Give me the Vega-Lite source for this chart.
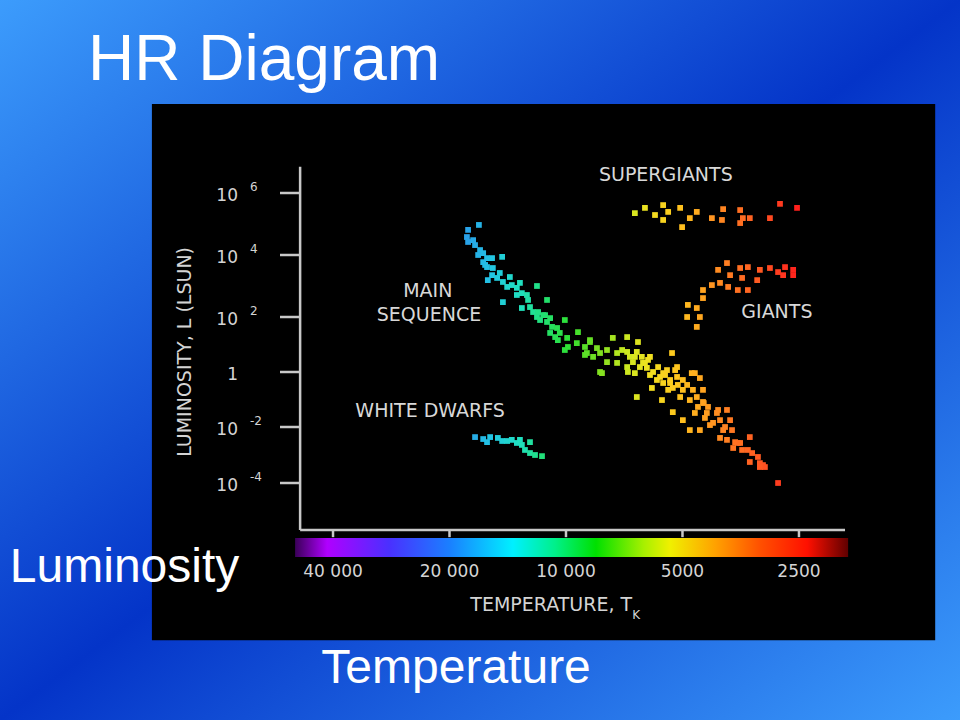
{
  "$schema": "https://vega.github.io/schema/vega-lite/v6.json",
  "width": 960,
  "height": 720,
  "padding": 0,
  "autosize": {"type": "fit", "contains": "padding"},
  "background": "#1f63dc",
  "config": {"view": {"stroke": null}},
  "datasets": {
    "stars": [
      {"class": "Main sequence", "logT": 4.225, "logL": 4.97},
      {"class": "Main sequence", "logT": 4.253, "logL": 4.81},
      {"class": "Main sequence", "logT": 4.256, "logL": 4.58},
      {"class": "Main sequence", "logT": 4.253, "logL": 4.42},
      {"class": "Main sequence", "logT": 4.24, "logL": 4.48},
      {"class": "Main sequence", "logT": 4.235, "logL": 4.32},
      {"class": "Main sequence", "logT": 4.222, "logL": 4.16},
      {"class": "Main sequence", "logT": 4.227, "logL": 4.0},
      {"class": "Main sequence", "logT": 4.214, "logL": 4.06},
      {"class": "Main sequence", "logT": 4.204, "logL": 3.9},
      {"class": "Main sequence", "logT": 4.191, "logL": 3.9},
      {"class": "Main sequence", "logT": 4.165, "logL": 3.94},
      {"class": "Main sequence", "logT": 4.214, "logL": 3.77},
      {"class": "Main sequence", "logT": 4.209, "logL": 3.68},
      {"class": "Main sequence", "logT": 4.204, "logL": 3.61},
      {"class": "Main sequence", "logT": 4.189, "logL": 3.58},
      {"class": "Main sequence", "logT": 4.191, "logL": 3.35},
      {"class": "Main sequence", "logT": 4.202, "logL": 3.19},
      {"class": "Main sequence", "logT": 4.178, "logL": 3.26},
      {"class": "Main sequence", "logT": 4.171, "logL": 3.42},
      {"class": "Main sequence", "logT": 4.163, "logL": 3.13},
      {"class": "Main sequence", "logT": 4.145, "logL": 3.29},
      {"class": "Main sequence", "logT": 4.152, "logL": 2.97},
      {"class": "Main sequence", "logT": 4.14, "logL": 3.03},
      {"class": "Main sequence", "logT": 4.127, "logL": 2.94},
      {"class": "Main sequence", "logT": 4.127, "logL": 2.71},
      {"class": "Main sequence", "logT": 4.119, "logL": 3.1},
      {"class": "Main sequence", "logT": 4.114, "logL": 2.77},
      {"class": "Main sequence", "logT": 4.101, "logL": 2.71},
      {"class": "Main sequence", "logT": 4.163, "logL": 2.48},
      {"class": "Main sequence", "logT": 4.114, "logL": 2.29},
      {"class": "Main sequence", "logT": 4.098, "logL": 2.55},
      {"class": "Main sequence", "logT": 4.093, "logL": 2.32},
      {"class": "Main sequence", "logT": 4.085, "logL": 2.16},
      {"class": "Main sequence", "logT": 4.072, "logL": 2.16},
      {"class": "Main sequence", "logT": 4.075, "logL": 3.0},
      {"class": "Main sequence", "logT": 4.049, "logL": 2.55},
      {"class": "Main sequence", "logT": 4.075, "logL": 2.0},
      {"class": "Main sequence", "logT": 4.067, "logL": 1.89},
      {"class": "Main sequence", "logT": 4.059, "logL": 2.06},
      {"class": "Main sequence", "logT": 4.054, "logL": 2.06},
      {"class": "Main sequence", "logT": 4.049, "logL": 1.82},
      {"class": "Main sequence", "logT": 4.041, "logL": 1.96},
      {"class": "Main sequence", "logT": 4.036, "logL": 1.64},
      {"class": "Main sequence", "logT": 4.023, "logL": 1.6},
      {"class": "Main sequence", "logT": 4.041, "logL": 1.42},
      {"class": "Main sequence", "logT": 4.028, "logL": 1.27},
      {"class": "Main sequence", "logT": 4.016, "logL": 1.42},
      {"class": "Main sequence", "logT": 4.003, "logL": 1.89},
      {"class": "Main sequence", "logT": 4.021, "logL": 1.16},
      {"class": "Main sequence", "logT": 3.997, "logL": 1.24},
      {"class": "Main sequence", "logT": 4.003, "logL": 0.8},
      {"class": "Main sequence", "logT": 3.995, "logL": 0.91},
      {"class": "Main sequence", "logT": 3.972, "logL": 1.05},
      {"class": "Main sequence", "logT": 3.969, "logL": 1.45},
      {"class": "Main sequence", "logT": 3.951, "logL": 0.91},
      {"class": "Main sequence", "logT": 3.951, "logL": 0.62},
      {"class": "Main sequence", "logT": 3.938, "logL": 1.09},
      {"class": "Main sequence", "logT": 3.938, "logL": 1.16},
      {"class": "Main sequence", "logT": 3.946, "logL": 0.69},
      {"class": "Main sequence", "logT": 3.92, "logL": 0.87},
      {"class": "Main sequence", "logT": 3.93, "logL": 0.55},
      {"class": "Main sequence", "logT": 3.912, "logL": 0.69},
      {"class": "Main sequence", "logT": 3.912, "logL": 0.0},
      {"class": "Main sequence", "logT": 3.907, "logL": -0.04},
      {"class": "Main sequence", "logT": 3.894, "logL": 0.8},
      {"class": "Main sequence", "logT": 3.894, "logL": 0.36},
      {"class": "Main sequence", "logT": 3.879, "logL": 1.24},
      {"class": "Main sequence", "logT": 3.868, "logL": 0.69},
      {"class": "Main sequence", "logT": 3.868, "logL": 0.33},
      {"class": "Main sequence", "logT": 3.855, "logL": 0.8},
      {"class": "Main sequence", "logT": 3.842, "logL": 1.27},
      {"class": "Main sequence", "logT": 3.842, "logL": 0.73},
      {"class": "Main sequence", "logT": 3.842, "logL": 0.18},
      {"class": "Main sequence", "logT": 3.84, "logL": 0.0},
      {"class": "Main sequence", "logT": 3.835, "logL": 0.55},
      {"class": "Main sequence", "logT": 3.827, "logL": 0.36},
      {"class": "Main sequence", "logT": 3.822, "logL": 0.55},
      {"class": "Main sequence", "logT": 3.814, "logL": 1.09},
      {"class": "Main sequence", "logT": 3.817, "logL": 0.73},
      {"class": "Main sequence", "logT": 3.822, "logL": -0.04},
      {"class": "Main sequence", "logT": 3.817, "logL": -0.91},
      {"class": "Main sequence", "logT": 3.809, "logL": 0.18},
      {"class": "Main sequence", "logT": 3.804, "logL": 0.55},
      {"class": "Main sequence", "logT": 3.801, "logL": 0.33},
      {"class": "Main sequence", "logT": 3.796, "logL": 0.33},
      {"class": "Main sequence", "logT": 3.791, "logL": 0.15},
      {"class": "Main sequence", "logT": 3.788, "logL": 0.44},
      {"class": "Main sequence", "logT": 3.783, "logL": 0.55},
      {"class": "Main sequence", "logT": 3.783, "logL": -0.11},
      {"class": "Main sequence", "logT": 3.775, "logL": 0.0},
      {"class": "Main sequence", "logT": 3.778, "logL": -0.58},
      {"class": "Main sequence", "logT": 3.765, "logL": -0.29},
      {"class": "Main sequence", "logT": 3.762, "logL": 0.18},
      {"class": "Main sequence", "logT": 3.757, "logL": -0.18},
      {"class": "Main sequence", "logT": 3.752, "logL": -1.02},
      {"class": "Main sequence", "logT": 3.749, "logL": -0.04},
      {"class": "Main sequence", "logT": 3.749, "logL": -0.4},
      {"class": "Main sequence", "logT": 3.744, "logL": -0.11},
      {"class": "Main sequence", "logT": 3.739, "logL": 0.07},
      {"class": "Main sequence", "logT": 3.731, "logL": -0.29},
      {"class": "Main sequence", "logT": 3.731, "logL": -0.4},
      {"class": "Main sequence", "logT": 3.726, "logL": 0.69},
      {"class": "Main sequence", "logT": 3.724, "logL": -1.46},
      {"class": "Main sequence", "logT": 3.718, "logL": 0.07},
      {"class": "Main sequence", "logT": 3.736, "logL": -0.65},
      {"class": "Main sequence", "logT": 3.724, "logL": -0.58},
      {"class": "Main sequence", "logT": 3.713, "logL": 0.18},
      {"class": "Main sequence", "logT": 3.713, "logL": -0.18},
      {"class": "Main sequence", "logT": 3.711, "logL": -0.47},
      {"class": "Main sequence", "logT": 3.705, "logL": -0.91},
      {"class": "Main sequence", "logT": 3.698, "logL": -0.29},
      {"class": "Main sequence", "logT": 3.698, "logL": -0.65},
      {"class": "Main sequence", "logT": 3.687, "logL": -0.47},
      {"class": "Main sequence", "logT": 3.68, "logL": -1.02},
      {"class": "Main sequence", "logT": 3.675, "logL": -0.04},
      {"class": "Main sequence", "logT": 3.667, "logL": -0.04},
      {"class": "Main sequence", "logT": 3.672, "logL": -0.65},
      {"class": "Main sequence", "logT": 3.662, "logL": -0.91},
      {"class": "Main sequence", "logT": 3.659, "logL": -1.27},
      {"class": "Main sequence", "logT": 3.667, "logL": -1.49},
      {"class": "Main sequence", "logT": 3.654, "logL": -0.22},
      {"class": "Main sequence", "logT": 3.646, "logL": -0.65},
      {"class": "Main sequence", "logT": 3.646, "logL": -1.09},
      {"class": "Main sequence", "logT": 3.644, "logL": -1.13},
      {"class": "Main sequence", "logT": 3.636, "logL": -1.49},
      {"class": "Main sequence", "logT": 3.633, "logL": -1.27},
      {"class": "Main sequence", "logT": 3.641, "logL": -1.67},
      {"class": "Main sequence", "logT": 3.628, "logL": -1.93},
      {"class": "Main sequence", "logT": 3.698, "logL": -1.75},
      {"class": "Main sequence", "logT": 3.68, "logL": -2.11},
      {"class": "Main sequence", "logT": 3.654, "logL": -2.11},
      {"class": "Main sequence", "logT": 3.62, "logL": -1.85},
      {"class": "Main sequence", "logT": 3.61, "logL": -1.49},
      {"class": "Main sequence", "logT": 3.607, "logL": -1.38},
      {"class": "Main sequence", "logT": 3.602, "logL": -1.75},
      {"class": "Main sequence", "logT": 3.594, "logL": -2.11},
      {"class": "Main sequence", "logT": 3.589, "logL": -2.0},
      {"class": "Main sequence", "logT": 3.584, "logL": -1.38},
      {"class": "Main sequence", "logT": 3.576, "logL": -1.75},
      {"class": "Main sequence", "logT": 3.571, "logL": -2.11},
      {"class": "Main sequence", "logT": 3.602, "logL": -2.39},
      {"class": "Main sequence", "logT": 3.584, "logL": -2.46},
      {"class": "Main sequence", "logT": 3.563, "logL": -2.54},
      {"class": "Main sequence", "logT": 3.556, "logL": -2.57},
      {"class": "Main sequence", "logT": 3.55, "logL": -2.57},
      {"class": "Main sequence", "logT": 3.568, "logL": -2.75},
      {"class": "Main sequence", "logT": 3.545, "logL": -2.82},
      {"class": "Main sequence", "logT": 3.525, "logL": -2.36},
      {"class": "Main sequence", "logT": 3.53, "logL": -2.82},
      {"class": "Main sequence", "logT": 3.525, "logL": -3.25},
      {"class": "Main sequence", "logT": 3.519, "logL": -2.93},
      {"class": "Main sequence", "logT": 3.504, "logL": -3.07},
      {"class": "Main sequence", "logT": 3.499, "logL": -3.29},
      {"class": "Main sequence", "logT": 3.491, "logL": -3.36},
      {"class": "Main sequence", "logT": 3.486, "logL": -3.43},
      {"class": "Main sequence", "logT": 3.499, "logL": -3.43},
      {"class": "Main sequence", "logT": 3.452, "logL": -4.0},
      {"class": "Supergiants", "logT": 3.822, "logL": 5.35},
      {"class": "Supergiants", "logT": 3.796, "logL": 5.52},
      {"class": "Supergiants", "logT": 3.77, "logL": 5.29},
      {"class": "Supergiants", "logT": 3.749, "logL": 5.61},
      {"class": "Supergiants", "logT": 3.736, "logL": 5.39},
      {"class": "Supergiants", "logT": 3.749, "logL": 5.13},
      {"class": "Supergiants", "logT": 3.705, "logL": 5.52},
      {"class": "Supergiants", "logT": 3.68, "logL": 5.19},
      {"class": "Supergiants", "logT": 3.7, "logL": 4.9},
      {"class": "Supergiants", "logT": 3.662, "logL": 5.39},
      {"class": "Supergiants", "logT": 3.623, "logL": 5.19},
      {"class": "Supergiants", "logT": 3.594, "logL": 5.48},
      {"class": "Supergiants", "logT": 3.597, "logL": 5.13},
      {"class": "Supergiants", "logT": 3.55, "logL": 5.45},
      {"class": "Supergiants", "logT": 3.543, "logL": 5.19},
      {"class": "Supergiants", "logT": 3.55, "logL": 5.03},
      {"class": "Supergiants", "logT": 3.525, "logL": 5.19},
      {"class": "Supergiants", "logT": 3.473, "logL": 5.19},
      {"class": "Supergiants", "logT": 3.447, "logL": 5.65},
      {"class": "Supergiants", "logT": 3.403, "logL": 5.52},
      {"class": "Giants", "logT": 3.584, "logL": 3.74},
      {"class": "Giants", "logT": 3.607, "logL": 3.52},
      {"class": "Giants", "logT": 3.576, "logL": 3.35},
      {"class": "Giants", "logT": 3.55, "logL": 3.58},
      {"class": "Giants", "logT": 3.53, "logL": 3.61},
      {"class": "Giants", "logT": 3.499, "logL": 3.52},
      {"class": "Giants", "logT": 3.473, "logL": 3.58},
      {"class": "Giants", "logT": 3.452, "logL": 3.45},
      {"class": "Giants", "logT": 3.434, "logL": 3.61},
      {"class": "Giants", "logT": 3.413, "logL": 3.52},
      {"class": "Giants", "logT": 3.413, "logL": 3.35},
      {"class": "Giants", "logT": 3.439, "logL": 3.35},
      {"class": "Giants", "logT": 3.545, "logL": 3.26},
      {"class": "Giants", "logT": 3.506, "logL": 3.19},
      {"class": "Giants", "logT": 3.602, "logL": 3.1},
      {"class": "Giants", "logT": 3.581, "logL": 2.97},
      {"class": "Giants", "logT": 3.556, "logL": 2.87},
      {"class": "Giants", "logT": 3.53, "logL": 2.87},
      {"class": "Giants", "logT": 3.623, "logL": 3.03},
      {"class": "Giants", "logT": 3.646, "logL": 2.87},
      {"class": "Giants", "logT": 3.646, "logL": 2.61},
      {"class": "Giants", "logT": 3.662, "logL": 2.29},
      {"class": "Giants", "logT": 3.685, "logL": 2.39},
      {"class": "Giants", "logT": 3.687, "logL": 2.0},
      {"class": "Giants", "logT": 3.654, "logL": 2.0},
      {"class": "Giants", "logT": 3.662, "logL": 1.64},
      {"class": "White dwarfs", "logT": 4.235, "logL": -2.36},
      {"class": "White dwarfs", "logT": 4.214, "logL": -2.43},
      {"class": "White dwarfs", "logT": 4.196, "logL": -2.36},
      {"class": "White dwarfs", "logT": 4.204, "logL": -2.54},
      {"class": "White dwarfs", "logT": 4.176, "logL": -2.39},
      {"class": "White dwarfs", "logT": 4.165, "logL": -2.5},
      {"class": "White dwarfs", "logT": 4.152, "logL": -2.5},
      {"class": "White dwarfs", "logT": 4.14, "logL": -2.46},
      {"class": "White dwarfs", "logT": 4.127, "logL": -2.57},
      {"class": "White dwarfs", "logT": 4.119, "logL": -2.46},
      {"class": "White dwarfs", "logT": 4.093, "logL": -2.54},
      {"class": "White dwarfs", "logT": 4.114, "logL": -2.64},
      {"class": "White dwarfs", "logT": 4.106, "logL": -2.82},
      {"class": "White dwarfs", "logT": 4.093, "logL": -2.93},
      {"class": "White dwarfs", "logT": 4.08, "logL": -3.0},
      {"class": "White dwarfs", "logT": 4.062, "logL": -3.04}
    ],
    "yticks": [
      {"logL": 6, "base": "10", "sup": "6"},
      {"logL": 4, "base": "10", "sup": "4"},
      {"logL": 2, "base": "10", "sup": "2"},
      {"logL": 0, "base": "1", "sup": ""},
      {"logL": -2, "base": "10", "sup": "-2"},
      {"logL": -4, "base": "10", "sup": "-4"}
    ],
    "xticks": [
      {"logT": 4.602, "label": "40 000"},
      {"logT": 4.301, "label": "20 000"},
      {"logT": 4.0, "label": "10 000"},
      {"logT": 3.699, "label": "5000"},
      {"logT": 3.398, "label": "2500"}
    ],
    "regions": [
      {"label": "SUPERGIANTS", "logT": 3.742, "logL": 6.39},
      {"label": "MAIN", "logT": 4.357, "logL": 2.65},
      {"label": "SEQUENCE", "logT": 4.354, "logL": 1.85},
      {"label": "GIANTS", "logT": 3.455, "logL": 1.96},
      {"label": "WHITE DWARFS", "logT": 4.351, "logL": -1.64}
    ]
  },
  "layer": [
    {
      "data": {"values": [{}]},
      "mark": {
        "type": "rect",
        "color": {
          "gradient": "linear", "x1": 0, "y1": 0, "x2": 1, "y2": 1,
          "stops": [
            {"offset": 0, "color": "#3c9cfc"},
            {"offset": 0.5, "color": "#0434c8"},
            {"offset": 1, "color": "#3c9cfc"}
          ]
        }
      },
      "encoding": {
        "x": {"datum": 5.4625, "type": "quantitative", "axis": null,
              "scale": {"domain": [5.4625, 2.9819], "zero": false, "nice": false}},
        "x2": {"datum": 2.9819},
        "y": {"datum": 12.2, "type": "quantitative", "axis": null,
              "scale": {"domain": [-12.4, -4, -2, 0, 2, 4, 6, 12.2], "range": [720, 483, 427, 372, 317, 255, 193, 0], "zero": false, "nice": false}},
        "y2": {"datum": -12.4}
      }
    },
    {
      "data": {"values": [{}]},
      "mark": {"type": "rect", "color": "#000000"},
      "encoding": {
        "x": {"datum": 5.07, "type": "quantitative"},
        "x2": {"datum": 3.046},
        "y": {"datum": 8.86, "type": "quantitative"},
        "y2": {"datum": -9.57}
      }
    },
    {
      "data": {"values": [{}]},
      "mark": {
        "type": "rect",
        "color": {
          "gradient": "linear", "x1": 0, "y1": 0, "x2": 1, "y2": 0,
          "stops": [
            {"offset": 0, "color": "#3a0058"},
            {"offset": 0.058, "color": "#b000ff"},
            {"offset": 0.17, "color": "#4a30ff"},
            {"offset": 0.28, "color": "#1a80ff"},
            {"offset": 0.394, "color": "#00f0ff"},
            {"offset": 0.47, "color": "#00f08a"},
            {"offset": 0.544, "color": "#00e000"},
            {"offset": 0.631, "color": "#a8f000"},
            {"offset": 0.678, "color": "#f0f000"},
            {"offset": 0.761, "color": "#ffa000"},
            {"offset": 0.841, "color": "#ff5000"},
            {"offset": 0.926, "color": "#ff1000"},
            {"offset": 1, "color": "#600000"}
          ]
        }
      },
      "encoding": {
        "x": {"datum": 4.7, "type": "quantitative"}, "x2": {"datum": 3.271},
        "y": {"datum": -5.95, "type": "quantitative"}, "y2": {"datum": -6.62}
      }
    },
    {
      "data": {"values": [{}]},
      "mark": {"type": "rule", "color": "#c8c8c8", "strokeWidth": 2.5},
      "encoding": {
        "x": {"datum": 4.687, "type": "quantitative"},
        "y": {"datum": 6.84, "type": "quantitative"}, "y2": {"datum": -5.67}
      }
    },
    {
      "data": {"values": [{}]},
      "mark": {"type": "rule", "color": "#c8c8c8", "strokeWidth": 2.5},
      "encoding": {
        "x": {"datum": 4.687, "type": "quantitative"}, "x2": {"datum": 3.279},
        "y": {"datum": -5.67, "type": "quantitative"}
      }
    },
    {
      "data": {"name": "yticks"},
      "mark": {"type": "rule", "color": "#c8c8c8", "strokeWidth": 2.5},
      "encoding": {
        "x": {"datum": 4.739, "type": "quantitative"}, "x2": {"datum": 4.687},
        "y": {"field": "logL", "type": "quantitative"}
      }
    },
    {
      "data": {"name": "xticks"},
      "mark": {"type": "rule", "color": "#c8c8c8", "strokeWidth": 2.5},
      "encoding": {
        "x": {"field": "logT", "type": "quantitative"},
        "y": {"datum": -5.67, "type": "quantitative"}, "y2": {"datum": -5.92}
      }
    },
    {
      "data": {"name": "yticks"},
      "mark": {"type": "text", "align": "right", "baseline": "middle", "dy": 3, "font": "DejaVu Sans", "fontSize": 17, "color": "#d4d4d4"},
      "encoding": {
        "x": {"datum": 4.8475, "type": "quantitative"},
        "y": {"field": "logL", "type": "quantitative"},
        "text": {"field": "base", "type": "nominal"}
      }
    },
    {
      "data": {"name": "yticks"},
      "mark": {"type": "text", "align": "left", "baseline": "middle", "dy": -6, "font": "DejaVu Sans", "fontSize": 12, "color": "#d4d4d4"},
      "encoding": {
        "x": {"datum": 4.8165, "type": "quantitative"},
        "y": {"field": "logL", "type": "quantitative"},
        "text": {"field": "sup", "type": "nominal"}
      }
    },
    {
      "data": {"name": "xticks"},
      "mark": {"type": "text", "align": "center", "baseline": "alphabetic", "font": "DejaVu Sans", "fontSize": 17, "color": "#d4d4d4"},
      "encoding": {
        "x": {"field": "logT", "type": "quantitative"},
        "y": {"datum": -7.33, "type": "quantitative"},
        "text": {"field": "label", "type": "nominal"}
      }
    },
    {
      "data": {"name": "stars"},
      "mark": {"type": "point", "shape": "square", "filled": true, "size": 33, "opacity": 1},
      "encoding": {
        "x": {"field": "logT", "type": "quantitative"},
        "y": {"field": "logL", "type": "quantitative"},
        "color": {
          "field": "logT", "type": "quantitative", "legend": null,
          "scale": {
            "domain": [3.396, 3.499, 3.576, 3.641, 3.705, 3.783, 3.848, 3.912, 3.99, 4.054, 4.119, 4.196, 4.261],
            "range": ["#ff1c1c", "#ff5822", "#ff7a22", "#ffa020", "#ffc21e", "#f2e020", "#c8e820", "#80e020", "#30e030", "#22e070", "#20e0c0", "#22c4e4", "#2a9ee8"],
            "interpolate": "rgb"
          }
        }
      }
    },
    {
      "data": {"name": "regions"},
      "mark": {"type": "text", "align": "center", "baseline": "alphabetic", "font": "DejaVu Sans", "fontSize": 19, "color": "#d8d8d8"},
      "encoding": {
        "x": {"field": "logT", "type": "quantitative"},
        "y": {"field": "logL", "type": "quantitative"},
        "text": {"field": "label", "type": "nominal"}
      }
    },
    {
      "data": {"values": [{}]},
      "mark": {"type": "text", "align": "center", "baseline": "middle", "angle": 270, "font": "DejaVu Sans", "fontSize": 19, "color": "#d4d4d4", "text": "LUMINOSITY, L (LSUN)"},
      "encoding": {"x": {"datum": 4.984, "type": "quantitative"}, "y": {"datum": 0.73, "type": "quantitative"}}
    },
    {
      "data": {"values": [{}]},
      "mark": {"type": "text", "align": "right", "baseline": "alphabetic", "font": "DejaVu Sans", "fontSize": 19, "color": "#d4d4d4", "text": "TEMPERATURE, T"},
      "encoding": {"x": {"datum": 3.829, "type": "quantitative"}, "y": {"datum": -8.54, "type": "quantitative"}}
    },
    {
      "data": {"values": [{}]},
      "mark": {"type": "text", "align": "left", "baseline": "alphabetic", "font": "DejaVu Sans", "fontSize": 12, "color": "#d4d4d4", "text": "K"},
      "encoding": {"x": {"datum": 3.829, "type": "quantitative"}, "y": {"datum": -8.82, "type": "quantitative"}}
    },
    {
      "data": {"values": [{}]},
      "mark": {"type": "text", "align": "left", "baseline": "alphabetic", "font": "Liberation Sans", "fontSize": 64, "color": "#ffffff", "text": "HR Diagram"},
      "encoding": {"x": {"datum": 5.235, "type": "quantitative"}, "y": {"datum": 9.63, "type": "quantitative"}}
    },
    {
      "data": {"values": [{}]},
      "mark": {"type": "text", "align": "left", "baseline": "alphabetic", "font": "Liberation Sans", "fontSize": 48, "color": "#ffffff", "text": "Luminosity"},
      "encoding": {"x": {"datum": 5.437, "type": "quantitative"}, "y": {"datum": -7.51, "type": "quantitative"}}
    },
    {
      "data": {"values": [{}]},
      "mark": {"type": "text", "align": "center", "baseline": "alphabetic", "font": "Liberation Sans", "fontSize": 48, "color": "#ffffff", "text": "Temperature"},
      "encoding": {"x": {"datum": 4.284, "type": "quantitative"}, "y": {"datum": -11.09, "type": "quantitative"}}
    }
  ]
}
